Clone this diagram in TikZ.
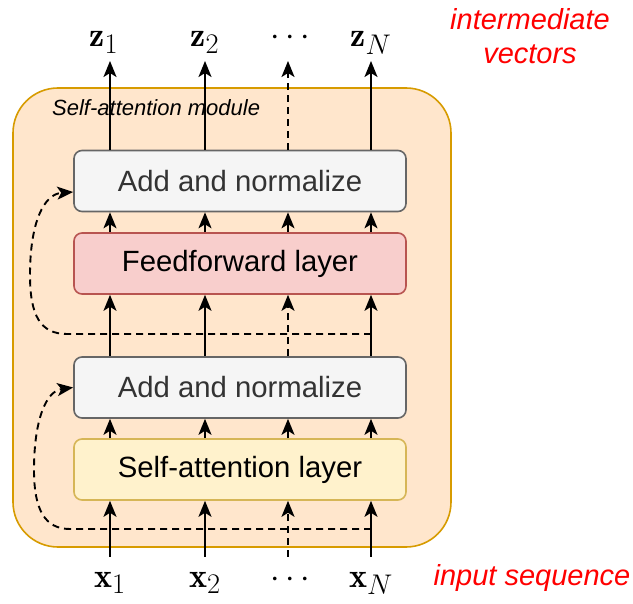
\documentclass[tikz,border=0pt]{standalone}
\usepackage{fontspec}
\newfontfamily\arial{Liberation Sans}
\usetikzlibrary{arrows.meta,calc}
\definecolor{modfill}{HTML}{FFE6CC}
\definecolor{moddraw}{HTML}{D79B00}
\definecolor{addfill}{HTML}{F5F5F5}
\definecolor{adddraw}{HTML}{666666}
\definecolor{addtext}{HTML}{333333}
\definecolor{fffill}{HTML}{F8CECC}
\definecolor{ffdraw}{HTML}{B85450}
\definecolor{safill}{HTML}{FFF2CC}
\definecolor{sadraw}{HTML}{D6B656}
\definecolor{redtext}{HTML}{FF0000}
\tikzset{
  layerbox/.style={rounded corners=8pt, line width=1.6pt, minimum width=332pt, minimum height=61pt, inner sep=0pt,
    font=\arial\fontsize{29.3}{33}\selectfont},
  addbox/.style={layerbox, fill=addfill, draw=adddraw, text=addtext},
  ffbox/.style={layerbox, fill=fffill, draw=ffdraw, text=black},
  sabox/.style={layerbox, fill=safill, draw=sadraw, text=black},
  tipstyle/.style={-{Stealth[length=16pt,width=13pt,inset=4pt]}},
  arr/.style={line width=1.9pt, tipstyle},
  dasharr/.style={arr, dash pattern=on 7pt off 5pt},
  resid/.style={line width=1.9pt, dash pattern=on 7pt off 5pt, tipstyle},
  mathlab/.style={inner sep=0pt, anchor=base, font=\fontsize{24.88}{30}\selectfont, scale=1.37},
  redlab/.style={inner sep=0pt, text=redtext, font=\arial\itshape\fontsize{29}{34}\selectfont},
}
\begin{document}
\begin{tikzpicture}[x=1pt,y=-1pt]
\useasboundingbox (0,0) rectangle (633,604);
% module
\node[draw=moddraw, fill=modfill, line width=1.6pt, rounded corners=45pt, minimum width=438pt, minimum height=459pt, inner sep=0pt] (module) at (232,317.5) {};
\node[anchor=west, inner sep=0pt, font=\arial\itshape\fontsize{22}{24}\selectfont] (modlab) at (52,108) {Self-attention module};
% layers
\node[addbox] (add2) at (240,181) {Add and normalize};
\node[ffbox] (ff) at (240,263.5) {Feedforward layer};
\node[addbox] (add1) at (240,387.5) {Add and normalize};
\node[sabox] (sa) at (240,469.5) {Self-attention layer};
% labels
\node[mathlab] (z1) at (104,47) {$\mathbf{z}_1$};
\node[mathlab] (z2) at (205,47) {$\mathbf{z}_2$};
\node[mathlab] (zd) at (290,46) {$\cdots$};
\node[mathlab] (zN) at (371,47) {$\mathbf{z}_N$};
\node[mathlab] (x1) at (110,587) {$\mathbf{x}_1$};
\node[mathlab] (x2) at (205,587) {$\mathbf{x}_2$};
\node[mathlab] (xd) at (290,587) {$\cdots$};
\node[mathlab] (xN) at (371,587) {$\mathbf{x}_N$};
\node[redlab, align=center] (inter) at (530,36) {intermediate\\vectors};
\node[redlab] (inseq) at (532,578) {input sequence};
% column coordinates
\foreach \c/\xx in {1/110,2/205,3/288,4/371}{
  \coordinate (in\c) at (\xx,557);
  \coordinate (out\c) at (\xx,61);
}
% column arrows
\foreach \c in {1,2,4}{
  \draw[arr] (in\c) -- (sa.south -| in\c);
  \draw[arr] (sa.north -| in\c) -- (add1.south -| in\c);
  \draw[arr] (add1.north -| in\c) -- (ff.south -| in\c);
  \draw[arr] (ff.north -| in\c) -- (add2.south -| in\c);
  \draw[arr] (add2.north -| in\c) -- (out\c);
}
\draw[dasharr] (in3) -- (sa.south -| in3);
\draw[arr] (sa.north -| in3) -- (add1.south -| in3);
\draw[dasharr] (add1.north -| in3) -- (ff.south -| in3);
\draw[arr] (ff.north -| in3) -- (add2.south -| in3);
\draw[dasharr] (add2.north -| in3) -- (out3);
% residual connections
\coordinate (r1) at (371,529);
\coordinate (r2) at (371,334);
\draw[resid] (r1) -- (70,529) .. controls (45,529) and (34,510) .. (34,470) .. controls (34,420) and (46,391) .. (add1.west);
\draw[resid] (r2) -- (67,334) .. controls (40,334) and (30,315) .. (30,275) .. controls (30,222) and (44,194) .. ([yshift=-11pt]add2.west);
\end{tikzpicture}
\end{document}
